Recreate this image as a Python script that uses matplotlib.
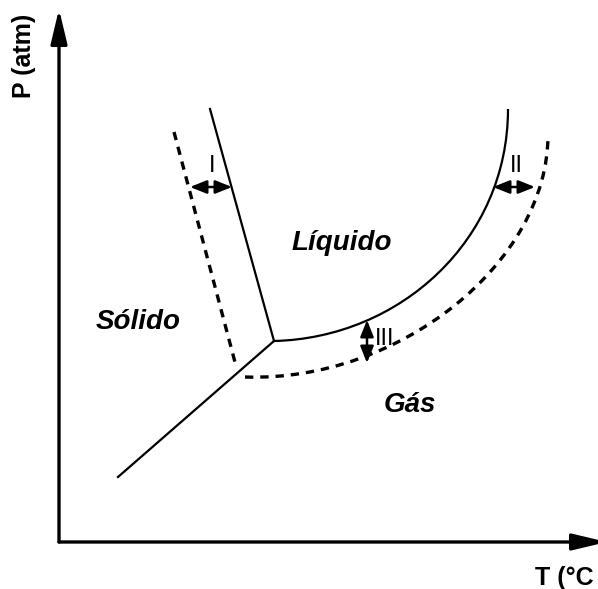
import matplotlib
matplotlib.use("Agg")
import matplotlib.pyplot as plt
from matplotlib.path import Path
from matplotlib.patches import PathPatch

# canvas works in pixel units of the reference (x right, y down)
W, H = 598, 589

# phase boundaries
triple_point = (274, 341)
solid_gas_end = (118, 477)
solid_liquid_top = (210, 109)
liquid_gas_ctrl = [(274, 341), (400, 338), (508, 240), (508, 109)]   # cubic bezier
gas_dashed_ctrl = [(245, 377), (400, 382), (548, 262), (548, 135)]   # cubic bezier
solid_dashed = [(174, 132), (236, 366)]

# double arrows marking shifts
shift_arrows = [((190, 187), (232, 187)), ((493, 187), (535, 187)), ((367, 320), (367, 363))]
shift_labels = ["I", "II", "III"]
shift_label_pos = [(212, 166), (516, 166), (385, 339)]

region_labels = ["Líquido", "Sólido", "Gás"]
region_label_pos = [(342, 243), (138, 322), (410, 405)]

plt.rcParams["font.family"] = ["Liberation Sans", "DejaVu Sans"]
plt.rcParams["lines.scale_dashes"] = False

fig = plt.figure(figsize=(W / 100, H / 100), dpi=100)
ax = fig.add_axes([0, 0, 1, 1])
ax.set_xlim(0, W)
ax.set_ylim(H, 0)
ax.axis("off")

# axes with arrow heads
origin = (59, 542)
axis_style = dict(arrowstyle="-|>,head_length=2.1,head_width=0.5", color="black",
                  lw=2.4, shrinkA=0, shrinkB=0, mutation_scale=10)
ax.annotate("", xy=(59, 9), xytext=origin, arrowprops=axis_style, annotation_clip=False)
ax.annotate("", xy=(607, 542), xytext=origin, arrowprops=axis_style, annotation_clip=False)
ax.text(24, 56, "P (atm)", rotation=90, ha="center", va="center",
        fontsize=18, fontweight="bold")
ax.text(535, 578, "T (°C", ha="left", va="center", fontsize=18, fontweight="bold")

# solid lines
ax.plot([solid_gas_end[0], triple_point[0]], [solid_gas_end[1], triple_point[1]],
        color="black", lw=1.6)
ax.plot([triple_point[0], solid_liquid_top[0]], [triple_point[1], solid_liquid_top[1]],
        color="black", lw=1.6)
codes = [Path.MOVETO, Path.CURVE4, Path.CURVE4, Path.CURVE4]
ax.add_patch(PathPatch(Path(liquid_gas_ctrl, codes), fill=False, lw=1.6, ec="black"))

# dashed lines
ax.add_patch(PathPatch(Path(gas_dashed_ctrl, codes), fill=False, lw=2.4, ec="black",
                       linestyle=(0, (6, 5))))
ax.plot([p[0] for p in solid_dashed], [p[1] for p in solid_dashed], color="black",
        lw=2.4, dashes=(6, 5))

for (a, b), lab, pos in zip(shift_arrows, shift_labels, shift_label_pos):
    ax.annotate("", xy=b, xytext=a,
                arrowprops=dict(arrowstyle="<|-|>,head_length=1.0,head_width=0.4",
                                color="black", lw=1.8, shrinkA=0, shrinkB=0,
                                mutation_scale=10))
    ax.text(pos[0], pos[1], lab, ha="center", va="center", fontsize=17,
            family=["Liberation Sans Narrow", "Liberation Sans"])

for lab, pos in zip(region_labels, region_label_pos):
    ax.text(pos[0], pos[1], lab, ha="center", va="center", fontsize=20,
            fontweight="bold", fontstyle="italic")

fig.savefig("out.png", dpi=100)
